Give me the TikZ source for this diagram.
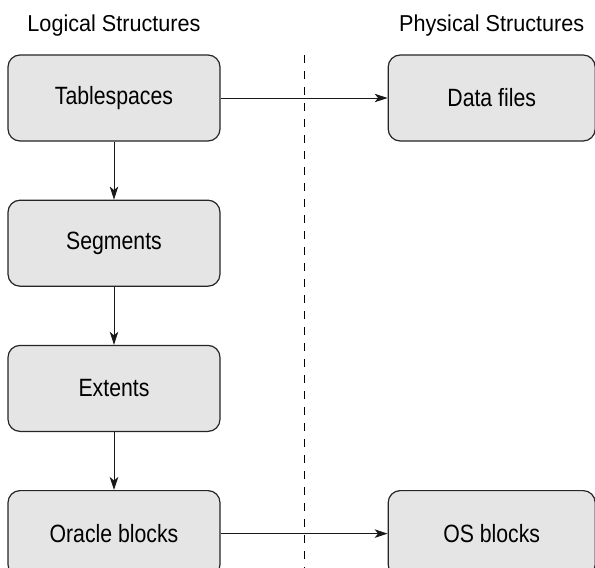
\documentclass[tikz,border=0pt]{standalone}
\usepackage{fontspec}
\setmainfont{Liberation Sans}
\newfontfamily\boxfont{Liberation Sans}[FakeStretch=0.85]
\newfontfamily\titlefont{Liberation Sans}[FakeStretch=0.94]
\usepackage{tikz}
\usetikzlibrary{positioning, arrows.meta}

\begin{document}
\begin{tikzpicture}[x=1pt, y=-1pt, node distance=58pt,
    box/.style={draw=black!85, line width=1.2pt, fill=black!10, rounded corners=12pt,
        minimum width=212pt, minimum height=86pt, inner sep=0pt,
        font=\boxfont\fontsize{25}{29}\selectfont},
    title/.style={font=\titlefont\fontsize{23}{27}\selectfont, anchor=base},
    link/.style={-{Stealth[length=13pt, width=8.5pt, inset=3.5pt]}, line width=1pt, draw=black!90}]
    \useasboundingbox (0,0) rectangle (595,568);

    \node[box] (tabsp) at (114,98) {Tablespaces};
    \node[box, below=of tabsp] (segm) {Segments};
    \node[box, below=of segm] (ext) {Extents};
    \node[box, below=of ext] (orablk) {Oracle blocks};

    \node[box, minimum width=207pt, right=167pt of tabsp] (datf) {Data files};
    \node[box, minimum width=207pt, right=167pt of orablk] (osblk) {OS blocks};

    \node[title, above=23pt of tabsp, anchor=base] (logtitle) {Logical Structures};
    \node[title, above=23pt of datf, anchor=base] (phystitle) {Physical Structures};

    % divider between the two sides
    \coordinate (divtop) at (304,55);
    \coordinate (divbot) at (304,568);
    \draw[line width=0.9pt, dash pattern=on 8pt off 8pt] (divtop) -- (divbot);

    \draw[link] (tabsp) -- (segm);
    \draw[link] (segm) -- (ext);
    \draw[link] (ext) -- (orablk);
    \draw[link] (tabsp) -- (datf);
    \draw[link] (orablk) -- (osblk);
\end{tikzpicture}
\end{document}
